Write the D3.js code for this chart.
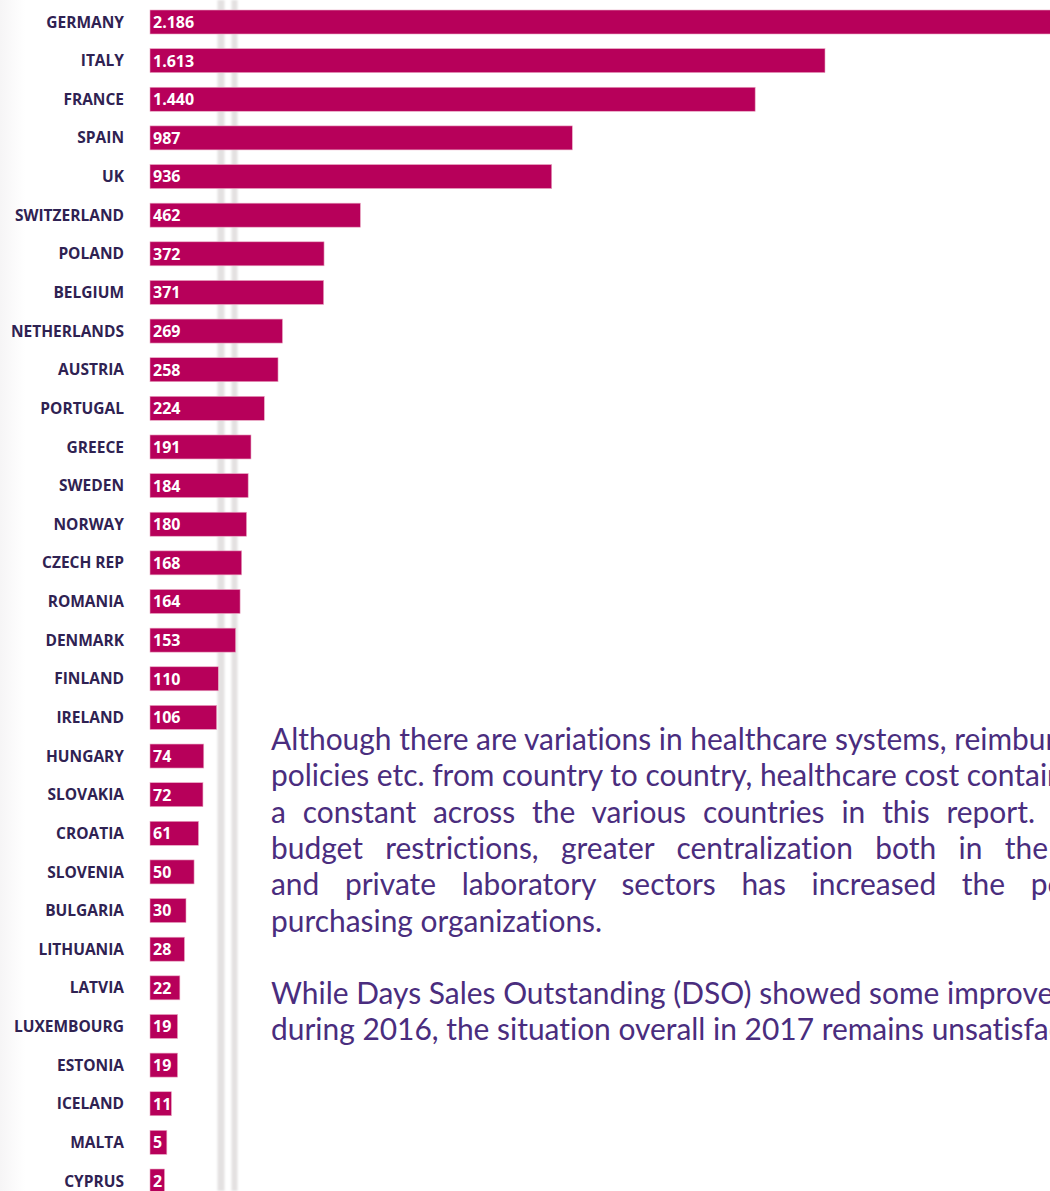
<!DOCTYPE html>
<html>
<head>
<meta charset="utf-8">
<script src="https://cdn.jsdelivr.net/npm/d3@7"></script>
<style>
	body { margin: 0; background: #ffffff; overflow: hidden; }
</style>
</head>
<body>
<div id="visualization"></div>
<script>
// Number of labs per country, biggest first
var countries = ["GERMANY", "ITALY", "FRANCE", "SPAIN", "UK", "SWITZERLAND", "POLAND", "BELGIUM",
	"NETHERLANDS", "AUSTRIA", "PORTUGAL", "GREECE", "SWEDEN", "NORWAY", "CZECH REP", "ROMANIA",
	"DENMARK", "FINLAND", "IRELAND", "HUNGARY", "SLOVAKIA", "CROATIA", "SLOVENIA", "BULGARIA",
	"LITHUANIA", "LATVIA", "LUXEMBOURG", "ESTONIA", "ICELAND", "MALTA", "CYPRUS"];
var values = [2186, 1613, 1440, 987, 936, 462, 372, 371, 269, 258, 224, 191, 184, 180, 168, 164,
	153, 110, 106, 74, 72, 61, 50, 30, 28, 22, 19, 19, 11, 5, 2];

// Text block on the right (clipped by the page edge)
var paragraphOne = [
	"Although there are variations in healthcare systems, reimbursement",
	"policies etc. from country to country, healthcare cost containment is",
	"a constant across the various countries in this report. Due to",
	"budget restrictions, greater centralization both in the public",
	"and private laboratory sectors has increased the power of",
	"purchasing organizations."
];
var paragraphTwo = [
	"While Days Sales Outstanding (DSO) showed some improvement",
	"during 2016, the situation overall in 2017 remains unsatisfactory."
];

var width = 1050;
var height = 1191;
var barColor = "#b7005a";
var labelColor = "#2f2252";
var textColor = "#4a2d7e";

// european number style: 2.186
var euro = d3.formatLocale({decimal: ",", thousands: ".", grouping: [3], currency: ["", "€"]});
var fmt = euro.format(",");

var svgContainer = d3.select("#visualization").append("svg")
	.attr("id", "Box")
	.attr("width", width)
	.attr("height", height)
	.style("font-family", "'Open Sans', sans-serif");

var defs = svgContainer.append("defs");
var blur = defs.append("filter").attr("id", "soft").attr("x", "-50%").attr("width", "200%");
blur.append("feGaussianBlur").attr("stdDeviation", 1.3);

var leftShade = defs.append("linearGradient").attr("id", "leftShade");
leftShade.append("stop").attr("offset", "0%").attr("stop-color", "#f6f5f6");
leftShade.append("stop").attr("offset", "100%").attr("stop-color", "#ffffff");

svgContainer.append("rect")
	.attr("x", 0)
	.attr("y", 0)
	.attr("width", 25)
	.attr("height", height)
	.attr("fill", "url(#leftShade)");

// the two pale fold lines behind the bars
[221, 234.5].forEach(function(cx, k) {
	svgContainer.append("rect")
		.attr("x", cx - (k == 0 ? 3.5 : 3))
		.attr("y", 0)
		.attr("width", k == 0 ? 7 : 6)
		.attr("height", height)
		.attr("fill", "#e3e1e1")
		.attr("filter", "url(#soft)");
});

var barX = 150;
var barHeight = 24;

var y = d3.scalePoint()
	.domain(countries)
	.range([22, 1181]);

// bars keep a small base so that the value label always fits
var x = d3.scaleLinear()
	.domain([0, 30, 1613])
	.range([13, 36, 675]);

var rows = svgContainer.append("g").selectAll("g")
	.data(countries)
	.enter().append("g")
	.attr("transform", function(d) { return "translate(0," + y(d) + ")"; });

rows.append("text")
	.attr("x", 124)
	.attr("y", 0)
	.attr("dy", "0.36em")
	.attr("text-anchor", "end")
	.attr("font-size", "15.5px")
	.attr("font-weight", 700)
	.attr("fill", labelColor)
	.text(function(d) { return d; });

rows.append("rect")
	.attr("x", barX)
	.attr("y", -barHeight / 2)
	.attr("width", function(d, i) { return x(values[i]); })
	.attr("height", barHeight)
	.attr("fill", barColor)
	.attr("stroke", "#e9a9c4")
	.attr("stroke-width", 0.6);

rows.append("text")
	.attr("x", barX + 3)
	.attr("y", 0)
	.attr("dy", "0.37em")
	.attr("font-size", "16px")
	.attr("font-weight", 700)
	.attr("fill", "#ffffff")
	.text(function(d, i) { return fmt(values[i]); });

// paragraph text
var textX = 271;
var lineStep = 36.3;
var firstBase = 750;

var textBlock = svgContainer.append("g")
	.attr("font-family", "Lato, 'Open Sans', sans-serif")
	.attr("font-weight", 400)
	.style("font-variant-ligatures", "none")
	.attr("fill", textColor);

// pick a font size so the first line runs as far as in the print
var probe = textBlock.append("text").attr("font-size", "29px").text("Although there are variations in healthcare systems,");
var fontSize = 29 * 676 / probe.node().getComputedTextLength();
probe.remove();

var allLines = paragraphOne.concat([""], paragraphTwo);

// justified lines: words to stretch and where the last one ends
var justify = {2: [9, 1035], 3: [7, 1048], 4: [7, 1005]};

allLines.forEach(function(line, i) {
	if (line == "") return;
	var t = textBlock.append("text")
		.attr("x", textX)
		.attr("y", firstBase + i * lineStep)
		.attr("font-size", fontSize + "px")
		.text(line);
	if (justify[i]) {
		var words = line.split(" ").slice(0, justify[i][0]);
		var m = textBlock.append("text").attr("font-size", fontSize + "px").text(words.join(" "));
		var natural = m.node().getComputedTextLength();
		m.remove();
		var extra = (justify[i][1] - textX - natural) / (words.length - 1);
		t.attr("word-spacing", extra + "px");
	}
});
</script>
</body>
</html>
